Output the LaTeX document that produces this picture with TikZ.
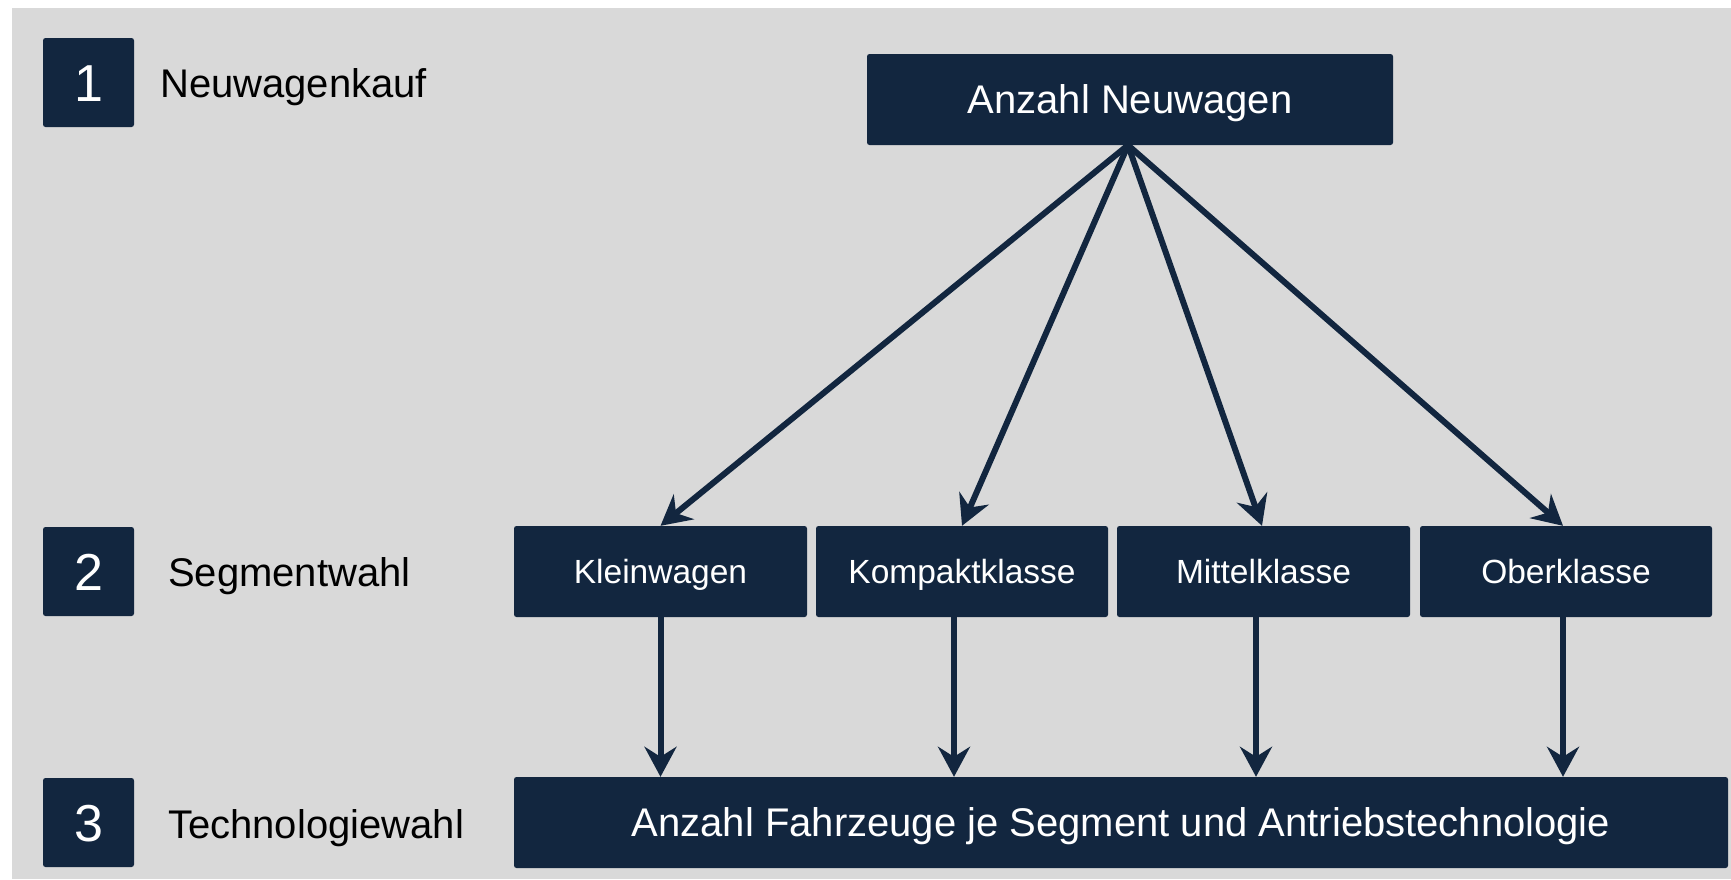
\documentclass[tikz,border=0pt]{standalone}
\usepackage{fontspec}
\setmainfont{Liberation Sans}
\usetikzlibrary{arrows.meta,calc}
\definecolor{navy}{HTML}{12263F}
\definecolor{bg}{HTML}{D9D9D9}
\tikzset{
  box/.style={fill=navy, draw=none, rounded corners=2.5pt, inner sep=0pt,
    text=white, text depth=0pt, align=center},
  numbox/.style={box, minimum width=91pt, minimum height=89pt, text height=37pt, font=\fontsize{52}{60}\selectfont},
  segbox/.style={box, minimum width=292pt, minimum height=91pt, text height=24pt, font=\fontsize{33.5}{40}\selectfont},
  bigbox/.style={box, minimum height=91pt, text height=28.6pt, font=\fontsize{40}{48}\selectfont},
  lbl/.style={anchor=base west, inner sep=0pt, text=black, font=\fontsize{40}{48}\selectfont},
  conn/.style={draw=navy, line width=6pt, -{Stealth[length=30pt, width=32pt, inset=10pt]}}
}
\begin{document}
\begin{tikzpicture}[x=1pt,y=-1pt]
\useasboundingbox (0,0) rectangle (1731,879);
\fill[bg] (12,8) rectangle (1731,879);
% step boxes
\node[numbox] (s1) at (88.5,82.5) {1};
\node[numbox] (s2) at (88.5,571.5) {2};
\node[numbox] (s3) at (88.5,822.5) {3};
\node[lbl] (l1) at (160,97) {Neuwagenkauf};
\node[lbl] (l2) at (168,586) {Segmentwahl};
\node[lbl] (l3) at (168,838) {Technologiewahl};
% main boxes
\node[bigbox, minimum width=526pt] (top) at (1130,99.5) {Anzahl Neuwagen};
\node[segbox, minimum width=293pt] (klein) at (660.5,571.5) {Kleinwagen};
\node[segbox] (kompakt) at (962,571.5) {Kompaktklasse};
\node[segbox, minimum width=293pt] (mittel) at (1263.5,571.5) {Mittelklasse};
\node[segbox] (ober) at (1566,571.5) {Oberklasse};
\node[bigbox, minimum width=1214pt] (bottom) at (1121,822.5) {Anzahl Fahrzeuge je Segment und Antriebstechnologie};
% arrows from top
\coordinate (src) at ($(top.south)+(-2,0)$);
\draw[conn] (src) -- (klein.north);
\draw[conn] (src) -- (kompakt.north);
\draw[conn] (src) -- ($(mittel.north)+(-1.5,0)$);
\draw[conn] (src) -- ($(ober.north)+(-3,0)$);
% vertical arrows
\draw[conn] (klein.south) -- (klein.south |- bottom.north);
\draw[conn] ($(kompakt.south)+(-8,0)$) -- ($(kompakt.south|-bottom.north)+(-8,0)$);
\draw[conn] ($(mittel.south)+(-7.5,0)$) -- ($(mittel.south|-bottom.north)+(-7.5,0)$);
\draw[conn] ($(ober.south)+(-3,0)$) -- ($(ober.south|-bottom.north)+(-3,0)$);
\end{tikzpicture}
\end{document}
